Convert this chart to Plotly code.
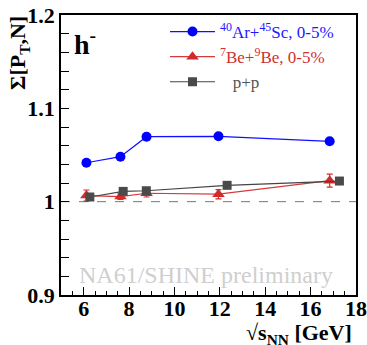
import plotly.graph_objects as go

# Data
arsc_x = [6.12, 7.62, 8.77, 11.94, 16.84]
arsc_y = [1.0417, 1.0482, 1.0696, 1.0700, 1.0647]
arsc_err = [0.002, 0.002, 0.002, 0.002, 0.002]

bebe_x = [6.12, 7.62, 8.77, 11.94, 16.84]
bebe_y = [1.0065, 1.0055, 1.0090, 1.0080, 1.0225]
bebe_err = [0.006, 0.003, 0.004, 0.005, 0.007]

pp_x = [6.27, 7.74, 8.76, 12.32, 17.27]
pp_y = [1.0050, 1.0110, 1.0117, 1.0175, 1.0221]
pp_err = [0.002, 0.002, 0.002, 0.002, 0.002]

x_ticks = [6, 8, 10, 12, 14, 16, 18]
y_ticks = [0.9, 1.0, 1.1, 1.2]
y_ticktext = ["0.9", "1", "1.1", "1.2"]

names = [
    "<span style='color:#1a1aff'><sup>40</sup>Ar+<sup>45</sup>Sc, 0-5%</span>",
    "<span style='color:#d03030'><sup>7</sup>Be+<sup>9</sup>Be, 0-5%</span>",
    "<span style='color:#555555'>   p+p</span>",
]

W, H = 367, 345
L, R, T, B = 61, 11, 15, 50
pw, ph = W - L - R, H - T - B

fig = go.Figure()

fig.add_trace(go.Scatter(
    x=arsc_x, y=arsc_y, mode="lines+markers", name=names[0],
    line=dict(color="#1010ff", width=1.2),
    marker=dict(symbol="circle", size=10, color="#0000ff"),
    error_y=dict(type="data", array=arsc_err, color="#0000ff", thickness=1.2, width=3),
))
fig.add_trace(go.Scatter(
    x=bebe_x, y=bebe_y, mode="lines+markers", name=names[1],
    line=dict(color="#d63a3a", width=1.2),
    marker=dict(symbol="triangle-up", size=11, color="#d12b2b"),
    error_y=dict(type="data", array=bebe_err, color="#d12b2b", thickness=1.2, width=3),
))
fig.add_trace(go.Scatter(
    x=pp_x, y=pp_y, mode="lines+markers", name=names[2],
    line=dict(color="#444444", width=1.2),
    marker=dict(symbol="square", size=9, color="#4a4a4a"),
    error_y=dict(type="data", array=pp_err, color="#4a4a4a", thickness=1.2, width=3),
))

fig.add_shape(type="line", xref="x", yref="y", x0=5, x1=18, y0=1.0, y1=1.0,
              line=dict(color="#777777", width=1, dash="dash"), layer="below")

tickfont = dict(family="Liberation Serif", size=22, color="black", weight="bold")

fig.update_layout(
    width=W, height=H,
    margin=dict(l=L, r=R, t=T, b=B, autoexpand=False),
    paper_bgcolor="white", plot_bgcolor="white",
    showlegend=True,
    legend=dict(
        x=(165 - L) / pw, y=(295 - 14) / ph, xanchor="left", yanchor="top",
        font=dict(family="Liberation Serif", size=17, color="black"),
        bgcolor="rgba(0,0,0,0)", tracegroupgap=0, itemwidth=45,
    ),
    xaxis=dict(
        range=[5, 18], showgrid=False, zeroline=False, automargin=False,
        showline=True, linecolor="black", linewidth=1.5, mirror=True,
        ticks="inside", ticklen=8, tickwidth=1.2, tickcolor="black",
        tickmode="array", tickvals=x_ticks, ticktext=["<b>%d</b>" % v for v in x_ticks],
        tickfont=tickfont, ticklabelstandoff=-7,
        minor=dict(ticks="inside", ticklen=4, dtick=0.5, tick0=5, tickcolor="black", tickwidth=1),
    ),
    yaxis=dict(
        range=[0.9, 1.2], showgrid=False, zeroline=False, automargin=False,
        showline=True, linecolor="black", linewidth=1.5, mirror=True,
        ticks="inside", ticklen=8, tickwidth=1.2, tickcolor="black",
        tickmode="array", tickvals=y_ticks, ticktext=["<b>%s</b>" % t for t in y_ticktext],
        tickfont=tickfont,
        minor=dict(ticks="inside", ticklen=8, dtick=0.02, tick0=0.9, tickcolor="black", tickwidth=1),
    ),
)


def px_to_paper(px, py):
    return (px - L) / pw, (T + ph - py) / ph


annotations = []
for text, px, py, xa, ang, font in [
    ("<b>h<sup>-</sup></b>", 72, 42, "left", 0,
     dict(family="Liberation Serif", size=28, color="black")),
    ("<b>Σ[P<sub>T</sub>,N]</b>", 19, 53, "center", -90,
     dict(family="Liberation Serif", size=22, color="black")),
    ("<b>√s<sub>NN</sub> [GeV]</b>", 354, 334, "right", 0,
     dict(family="Liberation Serif", size=22, color="black")),
    ("NA61/SHINE preliminary", 206, 275, "center", 0,
     dict(family="Liberation Serif", size=24, color="#cfcfcf")),
]:
    x, y = px_to_paper(px, py)
    annotations.append(dict(text=text, x=x, y=y, xref="paper", yref="paper",
                            showarrow=False, xanchor=xa, yanchor="middle",
                            textangle=ang, font=font))
fig.update_layout(annotations=annotations)

fig.write_html("out.html", config={"displayModeBar": False},
               post_script="document.body.style.margin='0';")
